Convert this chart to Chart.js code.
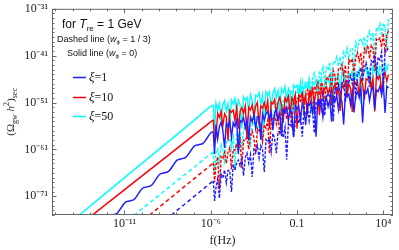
<!DOCTYPE html>
<html><head><meta charset="utf-8">
<script src="https://cdn.jsdelivr.net/npm/chart.js@4.4.1/dist/chart.umd.min.js"></script>
<style>html,body{margin:0;padding:0;background:#fff}</style>
</head><body>
<canvas id="c" width="399" height="250"></canvas>
<script>
// ---- axis ticks (log10 exponents) ----
const xTickExps = [-11, -6, -1, 4];
const xTickLabels = ['10\u207B\u00B9\u00B9', '10\u207B\u2076', '0.1', '10\u2074'];
const yTickExps = [-71, -61, -51, -41, -31];
const yTickLabels = ['10\u207B\u2077\u00B9', '10\u207B\u2076\u00B9', '10\u207B\u2075\u00B9', '10\u207B\u2074\u00B9', '10\u207B\u00B3\u00B9'];
const seriesNames = ['\u03BE=1', '\u03BE=10', '\u03BE=50'];

// ---- low-frequency part: log10 f and log10 Omega ----
const cyanSolidLowF = [-15.2, -7.0, -6.4, -6.1, -5.95, -5.85];
const cyanSolidLowV = [-79.8, -54.9, -53.0, -52.1, -51.7, -51.5];
const redSolidLowF = [-15.2, -7.0, -6.3, -6.0, -5.85];
const redSolidLowV = [-81.8, -58.0, -56.0, -55.1, -54.7];
const blueSolidLowF = [-12.2,-11.95,-11.7,-11.45,-11.2,-10.95,-10.7,-10.45,-10.2,-9.95,-9.7,-9.45,-9.2,-8.95,-8.7,-8.45,-8.2,-7.95,-7.7,-7.45,-7.2,-6.95,-6.7,-6.45,-6.2,-5.95,-5.85];
const blueSolidLowV = [-76.5,-75.3,-75.0,-74.7,-73.5,-72.3,-72.0,-71.7,-70.5,-69.3,-69.0,-68.7,-67.5,-66.3,-66.0,-65.7,-64.5,-63.3,-63.0,-62.7,-61.5,-60.3,-60.0,-59.7,-58.5,-57.3,-57.4];
const cyanDashLowF = [-15.2, -5.85];
const cyanDashLowV = [-89.1, -61.5];
const redDashLowF = [-15.2, -5.85];
const redDashLowV = [-92.0, -63.9];
const blueDashLowF = [-15.2, -5.85];
const blueDashLowV = [-95.8, -67.7];

// ---- high-frequency (oscillating) part: shared log10 f, per-series log10 Omega ----
const highF = [-5.85,-5.78,
 -5.7,-5.6,-5.5,-5.4,-5.3,-5.2,-5.1,-5.0,-4.9,-4.8,
 -4.7,-4.6,-4.5,-4.4,-4.3,-4.2,-4.1,-4.0,-3.9,-3.8,
 -3.7,-3.6,-3.5,-3.4,-3.3,-3.2,-3.1,-3.0,-2.9,-2.8,
 -2.7,-2.6,-2.5,-2.4,-2.3,-2.2,-2.1,-2.0,-1.9,-1.8,
 -1.7,-1.6,-1.5,-1.4,-1.3,-1.2,-1.1,-1.0,-0.9,-0.8,
 -0.7,-0.6,-0.5,-0.4,-0.3,-0.2,-0.1,0.0,0.1,0.2,
 0.3,0.4,0.5,0.6,0.7,0.8,0.9,1.0,1.1,1.2,
 1.3,1.4,1.5,1.6,1.7,1.8,1.9,2.0,2.1,2.2,
 2.3,2.4,2.5,2.6,2.7,2.8,2.9,3.0,3.1,3.2,
 3.3,3.4,3.5,3.6,3.7,3.8,3.9,4.0,4.1,4.2,
 4.3];
const cyanSolidHigh = [-51.5,-57.5,
 -51.1,-52.5,-51.2,-55.0,-51.4,-50.6,-52.9,-51.3,-56.3,-50.5,
 -51.3,-50.1,-53.0,-50.5,-51.5,-56.5,-49.8,-50.5,-49.9,-53.0,
 -49.3,-50.6,-53.9,-49.4,-49.7,-48.9,-51.3,-49.4,-56.4,-48.7,
 -49.5,-48.7,-52.2,-49.0,-48.0,-50.0,-48.5,-53.2,-48.0,-48.9,
 -47.6,-50.6,-48.0,-48.8,-53.8,-47.3,-47.8,-47.3,-49.5,-46.7,
 -51.2,-47.6,-46.8,-48.0,-46.4,-53.4,-46.6,-47.2,-46.2,-48.7,
 -46.5,-45.7,-50.6,-46.4,-46.8,-45.6,-47.5,-45.3,-51.3,-45.6,
 -46.0,-45.0,-48.1,-45.5,-44.6,-46.3,-50.0,-44.7,-45.5,-44.2,
 -47.8,-44.7,-45.5,-44.0,-51.3,-44.1,-44.5,-43.5,-45.7,-44.1,
 -48.4,-43.4,-44.4,-42.9,-45.8,-43.3,-43.6,-48.4,-42.7,-44.1,
 -42.7];
const redSolidHigh = [-54.7,-59.5,
 -58.5,-53.3,-54.2,-52.9,-56.0,-53.4,-54.1,-59.1,-52.6,-53.1,
 -52.6,-54.8,-52.1,-56.6,-52.9,-52.1,-53.3,-51.7,-58.7,-52.0,
 -52.6,-51.5,-54.0,-51.8,-51.0,-55.9,-51.7,-52.2,-51.0,-52.8,
 -50.6,-56.6,-50.9,-51.3,-50.3,-53.5,-50.8,-49.9,-51.6,-55.3,
 -50.0,-50.8,-49.6,-53.2,-50.0,-50.8,-49.3,-56.6,-49.4,-49.8,
 -48.9,-51.1,-49.4,-53.7,-48.7,-49.7,-48.2,-51.1,-48.7,-48.9,
 -53.7,-48.0,-49.4,-48.0,-47.6,-49.1,-47.8,-51.6,-47.9,-47.1,
 -49.4,-47.8,-52.8,-47.1,-47.9,-46.7,-49.5,-47.0,-48.0,-53.0,
 -46.3,-47.1,-46.5,-49.5,-45.8,-47.1,-50.4,-45.9,-46.2,-45.5,
 -47.9,-45.9,-52.9,-45.2,-46.0,-45.2,-48.8,-45.6,-44.6,-46.5,
 -45.0];
const blueSolidHigh = [-57.4,-62.0,
 -55.7,-58.8,-56.1,-55.2,-57.0,-60.7,-55.4,-56.2,-54.9,-58.5,
 -55.3,-56.1,-54.7,-62.0,-54.8,-55.2,-54.2,-56.4,-54.7,-59.1,
 -54.1,-55.1,-53.6,-56.5,-54.0,-54.2,-59.0,-53.4,-54.8,-53.4,
 -53.0,-54.4,-53.1,-56.9,-53.2,-52.5,-54.8,-53.2,-58.2,-52.4,
 -53.2,-52.0,-54.9,-52.4,-53.4,-58.4,-51.7,-52.4,-51.8,-54.8,
 -51.2,-52.5,-55.8,-51.3,-51.6,-50.8,-53.2,-51.2,-58.3,-50.6,
 -51.4,-50.6,-54.1,-50.9,-49.9,-51.9,-50.4,-55.1,-49.9,-50.8,
 -49.5,-52.5,-49.9,-50.7,-55.7,-49.2,-49.7,-49.2,-51.4,-48.6,
 -53.1,-49.5,-48.7,-49.9,-48.3,-55.3,-48.5,-49.1,-48.0,-50.6,
 -48.4,-47.6,-52.5,-48.3,-48.7,-47.5,-49.4,-47.2,-53.2,-47.5,
 -47.9];
const cyanDashHigh = [-61.5,-66.0,
 -61.7,-60.9,-63.7,-59.9,-61.0,-64.1,-59.4,-59.5,-58.6,-60.8,
 -58.6,-65.4,-57.5,-58.2,-57.2,-60.5,-57.1,-55.9,-57.7,-56.0,
 -60.5,-55.1,-55.8,-54.4,-57.2,-54.4,-54.9,-59.7,-53.1,-53.4,
 -52.7,-54.7,-51.7,-56.1,-52.2,-51.2,-52.2,-50.4,-57.3,-50.3,
 -50.7,-49.4,-51.7,-49.4,-48.4,-53.1,-48.7,-48.9,-47.6,-49.2,
 -46.8,-52.6,-46.7,-47.0,-45.8,-48.7,-45.8,-44.7,-46.3,-49.8,
 -44.3,-44.9,-43.4,-46.9,-43.5,-44.1,-42.4,-49.5,-42.2,-42.4,
 -41.2,-43.2,-41.3,-45.5,-40.3,-41.1,-39.4,-42.1,-39.5,-39.5,
 -44.1,-38.2,-39.4,-37.9,-37.3,-38.5,-37.0,-40.6,-36.8,-35.8,
 -37.9,-36.1,-40.9,-35.0,-35.6,-34.2,-36.8,-34.1,-35.0,-39.8,
 -32.9];
const redDashHigh = [-63.9,-68.0,
 -64.4,-62.6,-69.5,-62.5,-62.9,-61.6,-64.0,-61.6,-60.6,-65.3,
 -61.0,-61.2,-59.8,-61.4,-59.1,-64.9,-59.0,-59.2,-58.1,-61.0,
 -58.1,-57.1,-58.6,-62.1,-56.6,-57.3,-55.8,-59.2,-55.8,-56.5,
 -54.8,-61.9,-54.5,-54.8,-53.6,-55.6,-53.7,-57.9,-52.7,-53.5,
 -51.8,-54.6,-51.9,-51.9,-56.5,-50.7,-51.9,-50.3,-49.8,-51.0,
 -49.5,-53.1,-49.3,-48.3,-50.4,-48.6,-53.5,-47.5,-48.1,-46.7,
 -49.4,-46.7,-47.5,-52.3,-45.5,-46.0,-45.2,-48.0,-44.2,-45.3,
 -48.4,-43.7,-43.9,-42.9,-45.1,-43.0,-49.8,-41.9,-42.5,-41.6,
 -44.9,-41.5,-40.3,-42.1,-40.4,-44.9,-39.5,-40.3,-38.8,-41.6,
 -38.8,-39.4,-44.2,-37.5,-37.8,-37.2,-39.2,-36.2,-40.6,-36.7,
 -35.7];
const blueDashHigh = [-67.7,-72.0,
 -69.2,-67.3,-71.4,-66.3,-67.1,-65.4,-68.1,-65.5,-65.5,-70.1,
 -64.2,-65.4,-63.9,-63.3,-64.5,-63.0,-66.6,-62.8,-61.8,-63.9,
 -62.1,-66.9,-61.0,-61.6,-60.2,-62.8,-60.2,-61.0,-65.8,-58.9,
 -59.4,-58.7,-61.5,-57.6,-58.7,-61.8,-57.2,-57.3,-56.3,-58.5,
 -56.3,-63.2,-55.3,-55.9,-54.9,-58.3,-54.9,-53.7,-55.4,-53.7,
 -58.3,-52.9,-53.6,-52.1,-54.9,-52.2,-52.7,-57.5,-50.8,-51.1,
 -50.5,-52.5,-49.5,-53.8,-49.9,-49.0,-50.0,-48.2,-55.0,-48.1,
 -48.5,-47.2,-49.5,-47.1,-46.2,-50.9,-46.5,-46.7,-45.3,-47.0,
 -44.6,-50.4,-44.5,-44.7,-43.6,-46.5,-43.6,-42.5,-44.1,-47.6,
 -42.1,-42.7,-41.2,-44.7,-41.3,-41.9,-40.2,-47.3,-40.0,-40.2,
 -39.0];

const COL = { blue: '#1e1eff', red: '#ff0000', cyan: '#00ffff' };
const DASH = [4, 3];
const DASH_HI = [3, 1.5];

function pts(fs, vs) { return fs.map((f, i) => ({ x: Math.pow(10, f), y: Math.pow(10, vs[i]) })); }
function ds(fs, vs, color, dash, tension, width) {
  return { data: pts(fs, vs), borderColor: color, backgroundColor: color, borderWidth: width,
           borderDash: dash, pointRadius: 0, tension: tension, fill: false };
}

const datasets = [
  ds(blueSolidLowF, blueSolidLowV, COL.blue, [], 0.4, 1.5),
  ds(highF, blueSolidHigh, COL.blue, [], 0, 1.4),
  ds(blueDashLowF, blueDashLowV, COL.blue, DASH, 0, 1.5),
  ds(highF, blueDashHigh, COL.blue, DASH_HI, 0, 1.4),
  ds(redSolidLowF, redSolidLowV, COL.red, [], 0.4, 1.5),
  ds(highF, redSolidHigh, COL.red, [], 0, 1.4),
  ds(redDashLowF, redDashLowV, COL.red, DASH, 0, 1.5),
  ds(highF, redDashHigh, COL.red, DASH_HI, 0, 1.4),
  ds(cyanSolidLowF, cyanSolidLowV, COL.cyan, [], 0.4, 1.5),
  ds(highF, cyanSolidHigh, COL.cyan, [], 0, 1.4),
  ds(cyanDashLowF, cyanDashLowV, COL.cyan, DASH, 0, 1.5),
  ds(highF, cyanDashHigh, COL.cyan, DASH_HI, 0, 1.4)
];

function labelFor(exps, labels, v) {
  const e = Math.round(Math.log10(v));
  const i = exps.indexOf(e);
  return i >= 0 ? labels[i] : '';
}

function rich(ctx, parts, x, y, align) {
  let w = 0;
  parts.forEach(p => { ctx.font = p.f; w += ctx.measureText(p.t).width; });
  let cx = align === 'center' ? x - w / 2 : x;
  parts.forEach(p => { ctx.font = p.f; ctx.fillText(p.t, cx, y + (p.dy || 0)); cx += ctx.measureText(p.t).width; });
}

const decorPlugin = {
  id: 'decor',
  afterDraw(chart) {
    const { ctx, chartArea: a, scales: { x, y } } = chart;
    ctx.save();
    ctx.strokeStyle = '#666'; ctx.lineWidth = 1;
    ctx.strokeRect(a.left + 0.5, a.top + 0.5, a.right - a.left - 1, a.bottom - a.top - 1);
    ctx.beginPath();
    for (let e = -15; e <= 4; e++) {
      const px = Math.round(x.getPixelForValue(Math.pow(10, e))) + 0.5;
      const L = xTickExps.includes(e) ? 4.5 : 2.5;
      ctx.moveTo(px, a.bottom); ctx.lineTo(px, a.bottom - L);
      ctx.moveTo(px, a.top); ctx.lineTo(px, a.top + L);
    }
    for (let e = -75; e <= -31; e++) {
      const py = Math.round(y.getPixelForValue(Math.pow(10, e))) + 0.5;
      const L = yTickExps.includes(e) ? 4.5 : 2.5;
      ctx.moveTo(a.left, py); ctx.lineTo(a.left + L, py);
      ctx.moveTo(a.right, py); ctx.lineTo(a.right - L, py);
    }
    ctx.stroke();

    ctx.fillStyle = '#222'; ctx.textBaseline = 'alphabetic';
    ctx.save();
    ctx.translate(14, (a.top + a.bottom) / 2);
    ctx.rotate(-Math.PI / 2);
    const S = '"Liberation Serif", serif';
    rich(ctx, [
      { t: '(\u03A9', f: '11px ' + S },
      { t: 'gw', f: '8px ' + S, dy: 3 },
      { t: ' h', f: 'italic 11px ' + S },
      { t: '2', f: '8px ' + S, dy: -5 },
      { t: ')', f: '11px ' + S },
      { t: 'sec', f: '8px ' + S, dy: 3 }
    ], 0, 0, 'center');
    ctx.restore();

    const A = '"Liberation Sans", Arial, sans-serif';
    ctx.fillStyle = '#111';
    rich(ctx, [
      { t: 'for ', f: '12px ' + A },
      { t: 'T', f: 'italic 12px ' + A },
      { t: 're', f: '8px ' + A, dy: 3 },
      { t: ' = 1 GeV', f: '12px ' + A }
    ], 62, 28);
    rich(ctx, [
      { t: 'Dashed line (', f: '9px ' + A },
      { t: 'w', f: 'italic 9px ' + A },
      { t: '\u03D5', f: '6px ' + A, dy: 2 },
      { t: ' = 1 / 3)', f: '9px ' + A }
    ], 57, 42);
    rich(ctx, [
      { t: 'Solid line (', f: '9px ' + A },
      { t: 'w', f: 'italic 9px ' + A },
      { t: '\u03D5', f: '6px ' + A, dy: 2 },
      { t: ' = 0)', f: '9px ' + A }
    ], 67, 56);

    const legendCols = [COL.blue, COL.red, COL.cyan];
    const ly = [77, 97, 116];
    legendCols.forEach((c, i) => {
      ctx.strokeStyle = c; ctx.lineWidth = 1.5; ctx.setLineDash([]);
      ctx.beginPath(); ctx.moveTo(73, ly[i] + 0.5); ctx.lineTo(86, ly[i] + 0.5); ctx.stroke();
      ctx.fillStyle = '#111'; ctx.textBaseline = 'middle';
      rich(ctx, [
        { t: seriesNames[i].charAt(0), f: 'italic 13px ' + S },
        { t: seriesNames[i].slice(1), f: '12px ' + S }
      ], 89, ly[i] + 1);
    });
    ctx.restore();
  }
};

new Chart(document.getElementById('c'), {
  type: 'line',
  data: { datasets },
  options: {
    responsive: false, animation: false, devicePixelRatio: 1,
    layout: { padding: { left: 0, right: 6, top: 5, bottom: 0 } },
    plugins: { legend: { display: false }, tooltip: { enabled: false } },
    scales: {
      x: {
        type: 'logarithmic', min: Math.pow(10, -15.2), max: Math.pow(10, 4.56),
        afterBuildTicks: s => { s.ticks = xTickExps.map(e => ({ value: Math.pow(10, e) })); },
        afterFit: s => { s.height = 35; },
        grid: { display: false, drawTicks: false }, border: { display: false },
        ticks: { callback: v => labelFor(xTickExps, xTickLabels, v), autoSkip: false, maxRotation: 0,
                 padding: 3, color: '#222', font: { family: '"Liberation Serif", serif', size: 12, lineHeight: 1 } },
        title: { display: true, text: 'f(Hz)', color: '#222', padding: { top: 0, bottom: 2 },
                 font: { family: '"Liberation Serif", serif', size: 12 } }
      },
      y: {
        type: 'logarithmic', min: 1e-75, max: 1e-31,
        afterBuildTicks: s => { s.ticks = yTickExps.map(e => ({ value: Math.pow(10, e) })); },
        afterFit: s => { s.width = 52; },
        grid: { display: false, drawTicks: false }, border: { display: false },
        ticks: { callback: v => labelFor(yTickExps, yTickLabels, v), autoSkip: false,
                 padding: 4, color: '#222', font: { family: '"Liberation Serif", serif', size: 12, lineHeight: 0.8 } }
      }
    }
  },
  plugins: [decorPlugin]
});
</script>
</body></html>
